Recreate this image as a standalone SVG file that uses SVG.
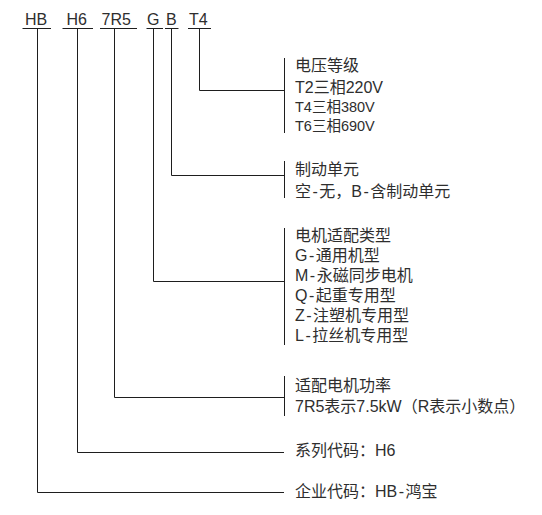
<svg xmlns="http://www.w3.org/2000/svg" width="542" height="515" viewBox="0 0 542 515">
<style>
  text { font-family: "Liberation Sans", "Noto Sans CJK SC", sans-serif; fill: #2e2e2e; font-size: 16px; }
  .sm { font-size: 14.5px; }
  .code { font-size: 16px; }
  line, path { stroke: #1e1e1e; stroke-width: 1; fill: none; }
</style>
<rect width="542" height="515" fill="#ffffff"/>
<g id="code">
  <text class="code" x="25" y="25">HB</text>
  <text class="code" x="66.5" y="25">H6</text>
  <text class="code" x="101.5" y="25">7R5</text>
  <text class="code" x="147" y="25">G</text>
  <text class="code" x="166" y="25">B</text>
  <text class="code" x="189" y="25">T4</text>
  <line x1="22.5" y1="28.5" x2="51" y2="28.5"/>
  <line x1="62.5" y1="28.5" x2="93" y2="28.5"/>
  <line x1="100" y1="28.5" x2="137" y2="28.5"/>
  <line x1="146.5" y1="28.5" x2="163" y2="28.5"/>
  <line x1="165" y1="28.5" x2="178.5" y2="28.5"/>
  <line x1="188" y1="28.5" x2="211" y2="28.5"/>
</g>
<g id="connectors">
  <path d="M199.5 28.5 V90.5 H284"/>
  <path d="M171.5 28.5 V175.5 H284"/>
  <path d="M153.5 28.5 V281.5 H284"/>
  <path d="M114.5 28.5 V397.5 H284"/>
  <path d="M77.5 28.5 V452.5 H284"/>
  <path d="M37.5 28.5 V492.5 H284"/>
</g>
<g id="voltage">
  <line x1="284.5" y1="58" x2="284.5" y2="133"/>
  <text x="295" y="70.5">电压等级</text>
  <text x="295" y="92.7">T2三相220V</text>
  <text class="sm" x="295" y="111.7">T4三相380V</text>
  <text class="sm" x="295" y="131">T6三相690V</text>
</g>
<g id="brake">
  <line x1="284.5" y1="161" x2="284.5" y2="198"/>
  <text x="295" y="175">制动单元</text>
  <text x="295" y="197">空<tspan dx="1.5">-</tspan><tspan dx="1.5">无，B</tspan><tspan dx="1.5">-</tspan><tspan dx="1.5">含制动单元</tspan></text>
</g>
<g id="motor-type">
  <line x1="284.5" y1="228" x2="284.5" y2="345"/>
  <text x="295" y="240.5">电机适配类型</text>
  <text x="295" y="261">G<tspan dx="1.5">-</tspan><tspan dx="1.5">通用机型</tspan></text>
  <text x="295" y="281">M<tspan dx="1.5">-</tspan><tspan dx="1.5">永磁同步电机</tspan></text>
  <text x="295" y="301">Q<tspan dx="1.5">-</tspan><tspan dx="1.5">起重专用型</tspan></text>
  <text x="295" y="321">Z<tspan dx="1.5">-</tspan><tspan dx="1.5">注塑机专用型</tspan></text>
  <text x="295" y="341">L<tspan dx="1.5">-</tspan><tspan dx="1.5">拉丝机专用型</tspan></text>
</g>
<g id="power">
  <line x1="284.5" y1="376" x2="284.5" y2="416"/>
  <text x="295" y="390.5">适配电机功率</text>
  <text x="295" y="411.5">7R5表示7.5kW（R表示小数点）</text>
</g>
<g id="series">
  <text x="295" y="455.5">系列代码：H6</text>
</g>
<g id="company">
  <text x="295" y="497">企业代码：HB<tspan dx="1.5">-</tspan><tspan dx="1.5">鸿宝</tspan></text>
</g>
</svg>
